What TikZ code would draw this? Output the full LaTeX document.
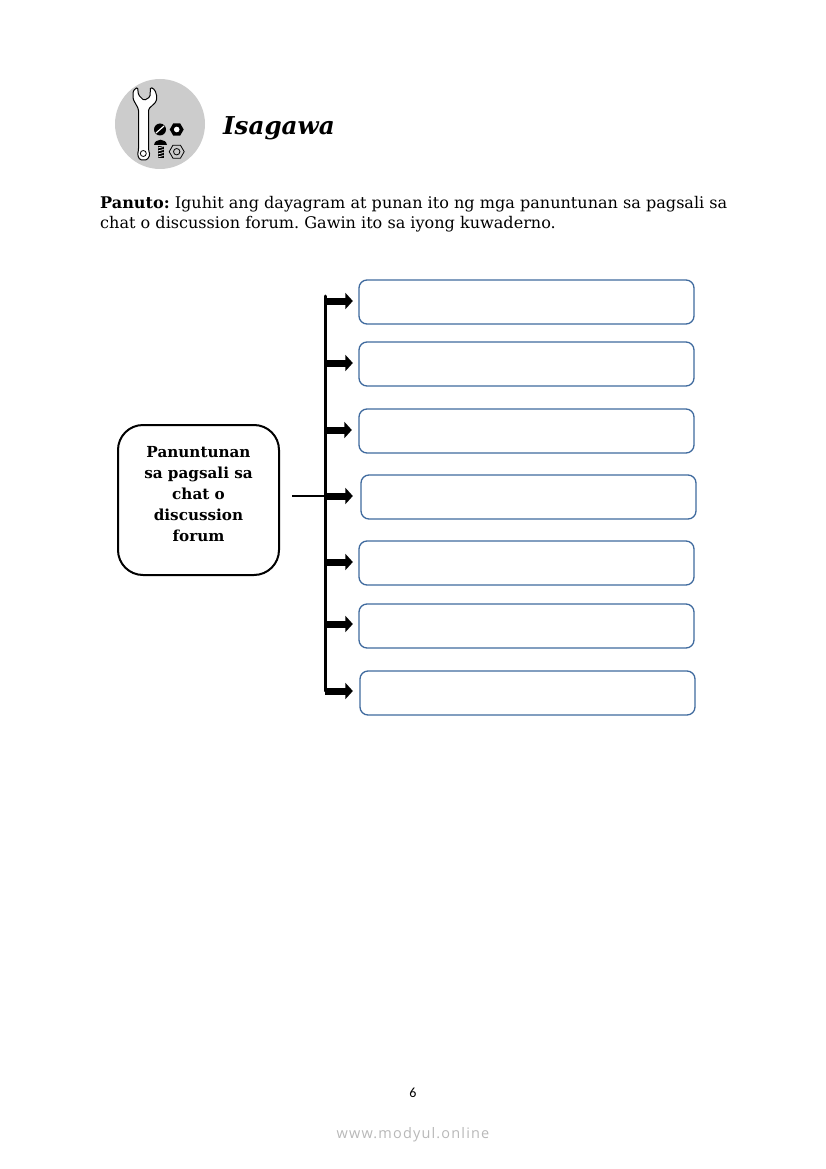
\documentclass[tikz,border=0pt]{standalone}
\usepackage{fontspec}
\setmainfont{DejaVu Serif}
\newfontfamily\numfont{Carlito}
\newfontfamily\webfont{Open Sans}[LetterSpace=8]
\usetikzlibrary{arrows.meta}
\definecolor{boxblue}{HTML}{3F6A9E}
\definecolor{icongray}{HTML}{CCCCCC}
\frenchspacing

\begin{document}
\begin{tikzpicture}[x=1pt,y=-1pt]
    % `rulebox' is used for the seven empty answer boxes.
    % `topic' is used for the box on the left.
    % `branch' is used for the thick arrows off the trunk.
    \tikzstyle{rulebox} = [draw=boxblue,line width=1.3pt,fill=white,rounded corners=8pt,
                           minimum width=335pt,minimum height=44pt,inner sep=0pt]
    \tikzstyle{topic} = [draw,line width=2pt,rounded corners=25pt,minimum width=161pt,
                         minimum height=150pt,inner sep=0pt,align=center,
                         font=\fontsize{15.2}{21}\selectfont\bfseries]
    \tikzstyle{branch} = [-{Triangle[length=7.5pt,width=16pt]},line width=7pt,shorten >=5.5pt]
    \tikzstyle{part} = [draw,line width=0.8pt]
    \tikzstyle{textline} = [anchor=base west,inner sep=0pt,font=\fontsize{16.07}{21}\selectfont]
    \useasboundingbox (0,0) rectangle (826,1169);
    %
    % Heading.
    \fill[icongray] (160,124) circle (45);
    \draw[part,fill=white,line width=1pt,rounded corners=1.5pt] (138.5,109) -- (133,99) -- (133,91)
      -- (137.5,87) -- (138.5,95) -- (144,100.5) -- (150,97) -- (150.5,87) -- (155,90) -- (157,97)
      -- (156,102) -- (148.5,109) -- (148.5,150) -- (150,155) -- (147,160) -- (140,160)
      -- (137.5,155) -- (138.5,150) -- cycle;
    \draw[part,fill=white] (143.3,153.5) circle (3);
    \fill (160,129.5) circle (6);
    \draw[white,line width=1.2pt] (156,133) -- (164,126);
    \fill (176.7,129.5) +(0:7) -- +(60:7) -- +(120:7) -- +(180:7) -- +(240:7) -- +(300:7) -- cycle;
    \fill[white] (176.7,129.5) circle (2.8);
    \fill (154,145) .. controls (155,138) and (166,138) .. (167,145) -- cycle;
    \fill (158,146) rectangle (163.5,158);
    \foreach \thready in {148,151,154,157}
      \draw[white,line width=0.7pt] (158,\thready) -- (163.5,\thready-1.5);
    \draw[part,fill=icongray] (176.7,151.7) +(0:7.5) -- +(60:7.5) -- +(120:7.5) -- +(180:7.5)
      -- +(240:7.5) -- +(300:7.5) -- cycle;
    \draw[part] (176.7,151.7) circle (3.2);
    \node[anchor=base west,inner sep=0pt,font=\fontsize{24.6}{24}\selectfont\bfseries\itshape] (title)
      at (223,135) {Isagawa};
    %
    % Instructions.
    \node[textline] (line1) at (100,208)
      {\textbf{Panuto:} Iguhit ang dayagram at punan ito ng mga panuntunan sa pagsali sa};
    \node[textline] (line2) at (100,228)
      {chat o discussion forum. Gawin ito sa iyong kuwaderno.};
    %
    % Boxes.
    \node[topic] (rules) at (198.5,500)
      {Panuntunan\\ sa pagsali sa\\ chat o\\ discussion\\ forum\\[-9pt]};
    \node[rulebox] (box1) at (526.5,302) {};
    \node[rulebox] (box2) at (526.5,364) {};
    \node[rulebox] (box3) at (526.5,431) {};
    \node[rulebox] (box4) at (528.5,497) {};
    \node[rulebox] (box5) at (526.5,563) {};
    \node[rulebox] (box6) at (526.5,626) {};
    \node[rulebox] (box7) at (527.5,693) {};
    %
    % Points on the trunk.
    \coordinate (trunk1) at (325,301);
    \coordinate (trunk2) at (325,363);
    \coordinate (trunk3) at (325,430);
    \coordinate (trunk4) at (325,496);
    \coordinate (trunk5) at (325,562);
    \coordinate (trunk6) at (325,624);
    \coordinate (trunk7) at (325,691);
    \coordinate (trunktop) at (325,296);
    %
    % Draw lines.
    \draw[line width=3pt,line cap=round] (trunktop) -- (trunk7);
    \draw[line width=2pt,shorten <=12pt] (rules.east |- trunk4) -- (trunk4);
    \draw[branch] (trunk1) -- (box1.west |- trunk1);
    \draw[branch] (trunk2) -- (box2.west |- trunk2);
    \draw[branch,shorten >=6.5pt] (trunk3) -- (box3.west |- trunk3);
    \draw[branch,shorten >=7.5pt] (trunk4) -- (box4.west |- trunk4);
    \draw[branch] (trunk5) -- (box5.west |- trunk5);
    \draw[branch] (trunk6) -- (box6.west |- trunk6);
    \draw[branch,shorten >=6.5pt] (trunk7) -- (box7.west |- trunk7);
    %
    % Foot of the page.
    \node[inner sep=0pt,font=\numfont\fontsize{14}{14}\selectfont] (pagenum) at (413,1093) {6};
    \node[inner sep=0pt,text=black!28,font=\webfont\fontsize{14.5}{15}\selectfont] (website) at (413,1135) {www.modyul.online};
\end{tikzpicture}
\end{document}
